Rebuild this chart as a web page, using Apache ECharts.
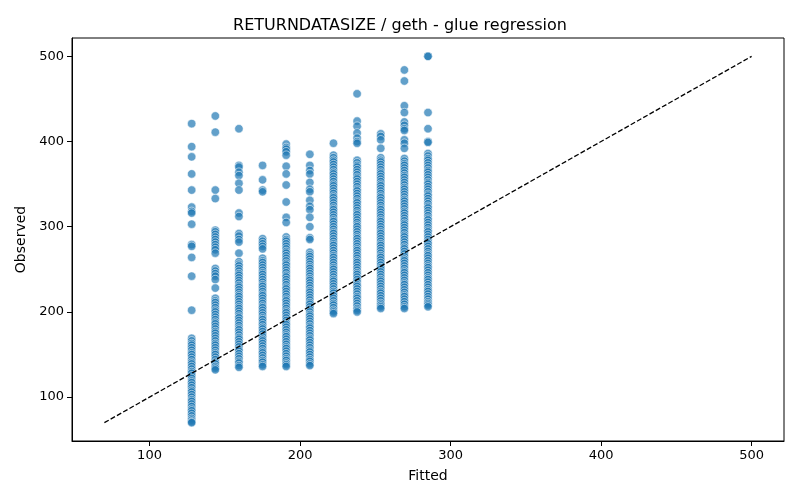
<!DOCTYPE html>
<html>
<head>
<meta charset="utf-8">
<script src="https://cdn.jsdelivr.net/npm/echarts@6/dist/echarts.min.js"></script>
<style>
  html, body { margin: 0; padding: 0; background: #ffffff; }
  #chart { width: 800px; height: 500px; }
</style>
</head>
<body>
<div id="chart"></div>
<script>
// Fitted value of each column
const fitted = [128, 143.7, 159.4, 175.1, 190.8, 206.5, 222.2, 237.9, 253.6, 269.3, 285];

// Observed values per column
const obs1 = [421,394,382,362,343,323,318,316,303,279,277,264,242,202,
  169,166,163,161,158,155,152,150,147,144,141,139,136,133,130,128,125,122,119,117,114,111,108,106,103,100,97,95,92,89,86,84,81,78,75,73,71,70];
const obs2 = [430,411,343,333,296,294,291,288,285,282,279,276,273,269,251,248,245,242,238,228,
  216,213,211,208,205,202,200,197,194,191,188,186,183,180,177,175,172,169,166,163,161,158,155,152,150,147,144,141,139,136,134,132];
const obs3 = [415,372,370,364,360,351,343,316,312,292,289,285,282,269,
  259,256,254,251,248,245,243,240,237,234,231,229,226,223,220,218,215,212,209,206,204,201,198,195,193,190,187,184,181,179,176,173,170,168,165,162,159,156,154,151,148,145,142,140,137,135];
const obs4 = [372,355,343,341,286,283,280,277,274,
  263,260,258,255,252,249,246,244,241,238,235,232,230,227,224,221,219,216,213,210,207,205,202,199,196,193,191,188,185,182,180,177,174,171,168,166,163,160,157,154,152,149,146,143,141,138,136];
const obs5 = [397,393,391,388,384,371,362,349,329,311,305,
  288,285,283,280,277,274,271,269,266,263,260,257,255,252,249,246,243,241,238,235,232,229,227,224,221,218,215,213,210,207,204,201,199,196,193,190,187,185,182,179,176,173,171,168,165,162,159,157,154,151,148,145,143,140,138,136];
const obs6 = [385,372,366,362,352,344,341,331,324,320,311,300,287,285,
  270,267,265,262,259,256,253,251,248,245,242,239,237,234,231,228,225,223,220,217,214,211,209,206,203,200,197,195,192,189,186,183,181,178,175,172,169,167,164,161,158,155,153,150,147,144,142,139,137];
const obs7 = [398,
  384,381,378,376,373,370,367,364,362,359,356,353,350,348,345,342,339,336,334,331,328,325,322,320,317,314,311,308,306,303,300,297,294,292,289,286,283,280,278,275,272,269,266,264,261,258,255,252,250,247,244,241,238,236,233,230,227,224,222,219,216,213,210,208,205,202,200,198];
const obs8 = [456,424,418,410,404,400,398,
  378,375,372,370,367,364,361,358,356,353,350,347,344,342,339,336,333,330,328,325,322,319,316,314,311,308,305,302,300,297,294,291,288,286,283,280,277,274,272,269,266,263,260,258,255,252,249,246,244,241,238,235,232,230,227,224,221,218,216,213,210,207,204,202,200];
const obs9 = [409,406,402,392,
  381,378,376,373,370,367,364,362,359,356,353,350,348,345,342,339,336,334,331,328,325,322,320,317,314,311,308,306,303,300,297,294,292,289,286,283,280,278,275,272,269,266,264,261,258,255,252,250,247,244,241,238,236,233,230,227,224,222,219,216,213,210,208,206,204];
const obs10 = [484,471,442,434,423,419,415,413,402,398,392,
  380,377,374,372,369,366,363,360,358,355,352,349,346,344,341,338,335,332,330,327,324,321,318,316,313,310,307,304,302,299,296,293,290,288,285,282,279,276,274,271,268,265,262,260,257,254,251,248,246,243,240,237,234,232,229,226,223,220,218,215,212,209,206,204];
const obs11 = [500,500,434,415,400,399,
  386,383,380,378,375,372,369,366,364,361,358,355,352,350,347,344,341,338,336,333,330,327,324,322,319,316,313,310,308,305,302,299,296,294,291,288,285,282,280,277,274,271,268,266,263,260,257,254,252,249,246,243,240,238,235,232,229,226,224,221,218,215,212,210,208,206];

const observedColumns = [obs1, obs2, obs3, obs4, obs5, obs6, obs7, obs8, obs9, obs10, obs11];

// Reference (identity) line end points
const refLine = [[70, 70], [500, 500]];
const tickValues = [100, 200, 300, 400, 500];

const points = [];
observedColumns.forEach((col, i) => {
  col.forEach(v => points.push([fitted[i], v]));
});

const font = 'DejaVu Sans';
const chart = echarts.init(document.getElementById('chart'), null, { renderer: 'canvas' });
chart.setOption({
  animation: false,
  backgroundColor: '#ffffff',
  title: {
    text: 'RETURNDATASIZE / geth - glue regression',
    left: 'center',
    top: 13,
    textStyle: { fontFamily: font, fontSize: 16, fontWeight: 'normal', color: '#000' }
  },
  grid: {
    left: 72, right: 16, top: 38, bottom: 59,
    show: true, borderColor: '#000', borderWidth: 1, backgroundColor: 'transparent'
  },
  xAxis: {
    type: 'value',
    min: 48.5, max: 521.5,
    name: 'Fitted',
    nameLocation: 'middle',
    nameGap: 28,
    nameTextStyle: { fontFamily: font, fontSize: 14, color: '#000' },
    splitLine: { show: false },
    axisLine: { show: true, lineStyle: { color: '#000', width: 1 } },
    axisTick: { show: true, length: 5, lineStyle: { color: '#000' }, customValues: tickValues },
    axisLabel: { fontFamily: font, fontSize: 13, color: '#000', margin: 8, customValues: tickValues }
  },
  yAxis: {
    type: 'value',
    min: 48.5, max: 521.5,
    name: 'Observed',
    nameLocation: 'middle',
    nameGap: 43,
    nameTextStyle: { fontFamily: font, fontSize: 14, color: '#000' },
    splitLine: { show: false },
    axisLine: { show: true, lineStyle: { color: '#000', width: 1 } },
    axisTick: { show: true, length: 5, lineStyle: { color: '#000' }, customValues: tickValues },
    axisLabel: { fontFamily: font, fontSize: 13, color: '#000', margin: 8, customValues: tickValues }
  },
  series: [
    {
      type: 'scatter',
      data: points,
      symbol: 'circle',
      symbolSize: 8.5,
      itemStyle: { color: '#1f77b4', opacity: 0.7, borderColor: '#ffffff', borderWidth: 0.8 },
      z: 2
    },
    {
      type: 'line',
      data: refLine,
      symbol: 'none',
      silent: true,
      lineStyle: { color: '#000', width: 1.3, type: [5, 2.2] },
      z: 3
    }
  ]
});
</script>
</body>
</html>
